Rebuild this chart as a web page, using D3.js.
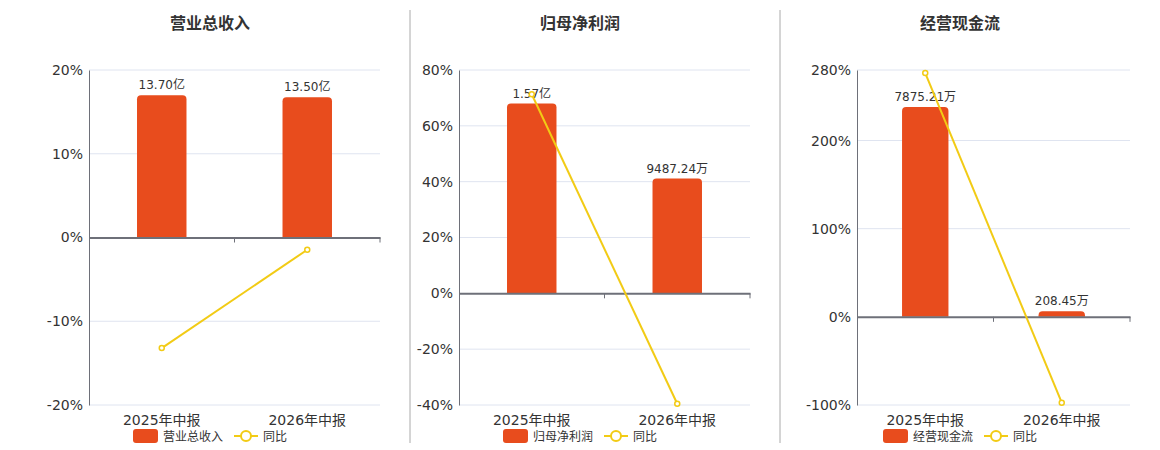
<!DOCTYPE html>
<html>
<head>
<meta charset="utf-8">
<script src="https://cdn.jsdelivr.net/npm/d3@7"></script>
<style>
  body { margin: 0; background: #fff; }
  svg text { font-family: "DejaVu Sans", "Noto Sans CJK SC", sans-serif; }
</style>
</head>
<body>
<div id="chart"></div>
<script>
// categories and values (bars in 万元, yoy in %)
var categories = ['2025年中报', '2026年中报'];
var titles = ['营业总收入', '归母净利润', '经营现金流'];
var revenue = [137000, 135000];
var netProfit = [15700, 9487.24];
var cashFlow = [7875.21, 208.45];
var revenueYoy = [-13.2, -1.46];
var profitYoy = [71.3, -39.57];
var cashYoy = [276.5, -97.35];
var yTicks1 = [-20, -10, 0, 10, 20];
var yTicks2 = [-40, -20, 0, 20, 40, 60, 80];
var yTicks3 = [-100, 0, 100, 200, 280];

var barColor = '#e84c1d', lineColor = '#f2cb15';

var W = 1160, H = 450;
var svg = d3.select('#chart').append('svg')
    .attr('width', W)
    .attr('height', H);

// panel separators
[410, 780].forEach(function(x) {
  svg.append('line')
    .attr('x1', x).attr('x2', x)
    .attr('y1', 10).attr('y2', 443)
    .attr('stroke', '#aaa').attr('stroke-width', 1);
});

function fmt(v) {
  if (v >= 10000) return (v / 10000).toFixed(2) + '亿';
  return v.toFixed(2) + '万';
}

// rounded-top bar path
function barPath(x, y, w, h, r) {
  r = Math.min(r, h, w / 2);
  return 'M' + x + ',' + (y + h) +
    'V' + (y + r) +
    'Q' + x + ',' + y + ' ' + (x + r) + ',' + y +
    'H' + (x + w - r) +
    'Q' + (x + w) + ',' + y + ' ' + (x + w) + ',' + (y + r) +
    'V' + (y + h) + 'Z';
}

var panels = [
  {off: 0,   left: 89,  title: titles[0], bars: revenue,   yoy: revenueYoy, ticks: yTicks1},
  {off: 370, left: 89,  title: titles[1], bars: netProfit, yoy: profitYoy,  ticks: yTicks2},
  {off: 750, left: 107, title: titles[2], bars: cashFlow,  yoy: cashYoy,    ticks: yTicks3}
];

var plotTop = 70, plotBottom = 405;

panels.forEach(function(p) {
  var g = svg.append('g').attr('transform', 'translate(' + p.off + ',0)');
  var right = 380;

  g.append('text')
    .attr('x', 210).attr('y', 29)
    .attr('text-anchor', 'middle')
    .attr('font-size', '16px')
    .attr('font-weight', 'bold')
    .attr('fill', '#333')
    .text(p.title);

  var x = d3.scaleBand()
    .domain(categories)
    .range([p.left, right]);

  var y = d3.scaleLinear()
    .domain(d3.extent(p.ticks))
    .range([plotBottom, plotTop]);

  var y0 = y(0);
  // bar axis shares the zero line, max bar at 85% of the positive range
  var yBar = d3.scaleLinear()
    .domain([0, d3.max(p.bars) / 0.85])
    .range([y0, plotTop]);

  // gridlines
  g.selectAll('.grid')
    .data(p.ticks.filter(function(t) { return t !== 0; }))
    .enter().append('line')
    .attr('x1', p.left).attr('x2', right)
    .attr('y1', function(d) { return y(d); })
    .attr('y2', function(d) { return y(d); })
    .attr('stroke', '#dfe4f0').attr('stroke-width', 1);

  // y axis
  var yAx = g.append('g')
    .attr('transform', 'translate(' + p.left + ',0)')
    .call(d3.axisLeft(y).tickValues(p.ticks).tickSize(0).tickPadding(6)
      .tickFormat(function(d) { return d + '%'; }));
  yAx.select('.domain').attr('stroke', '#6e7079');
  yAx.selectAll('text').attr('font-size', '14px').attr('fill', '#333')
    .attr('font-family', '"DejaVu Sans", "Noto Sans CJK SC", sans-serif');

  // bars
  g.selectAll('.bar')
    .data(p.bars)
    .enter().append('path')
    .attr('class', 'bar')
    .attr('fill', barColor)
    .attr('d', function(d, i) {
      var bw = x.bandwidth() * 0.34;
      var bx = x(categories[i]) + (x.bandwidth() - bw) / 2;
      var by = yBar(d);
      return barPath(bx, by, bw, y0 - by, 4);
    });

  g.selectAll('.blabel')
    .data(p.bars)
    .enter().append('text')
    .attr('x', function(d, i) { return x(categories[i]) + x.bandwidth() / 2; })
    .attr('y', function(d) { return yBar(d) - 6; })
    .attr('text-anchor', 'middle')
    .attr('font-size', '12px')
    .attr('fill', '#333')
    .text(fmt);

  // x axis on the zero line
  var xAx = g.append('g')
    .attr('transform', 'translate(0,' + y0 + ')')
    .call(d3.axisBottom(x).tickSize(0).tickFormat(''));
  xAx.select('.domain').attr('stroke', '#6e7079').attr('stroke-width', 2);
  var xt = [p.left + x.bandwidth(), right];
  xt.forEach(function(t) {
    g.append('line')
      .attr('x1', t).attr('x2', t)
      .attr('y1', y0).attr('y2', y0 + 5)
      .attr('stroke', '#6e7079').attr('stroke-width', 1);
  });

  // category labels
  g.selectAll('.cat')
    .data(categories)
    .enter().append('text')
    .attr('x', function(d) { return x(d) + x.bandwidth() / 2; })
    .attr('y', 425)
    .attr('text-anchor', 'middle')
    .attr('font-size', '14px')
    .attr('fill', '#333')
    .text(function(d) { return d; });

  // yoy line
  var line = d3.line()
    .x(function(d, i) { return x(categories[i]) + x.bandwidth() / 2; })
    .y(function(d) { return y(d); });

  g.append('path')
    .datum(p.yoy)
    .attr('d', line)
    .attr('fill', 'none')
    .attr('stroke', lineColor)
    .attr('stroke-width', 2);

  g.selectAll('.pt')
    .data(p.yoy)
    .enter().append('circle')
    .attr('cx', function(d, i) { return x(categories[i]) + x.bandwidth() / 2; })
    .attr('cy', function(d) { return y(d); })
    .attr('r', 2.5)
    .attr('fill', '#fff')
    .attr('stroke', lineColor)
    .attr('stroke-width', 1.5);

  // legend
  var lg = g.append('g');
  lg.append('rect')
    .attr('x', 133).attr('y', 429)
    .attr('width', 25).attr('height', 14).attr('rx', 3)
    .attr('fill', barColor);
  lg.append('text')
    .attr('x', 163).attr('y', 441)
    .attr('font-size', '12px').attr('fill', '#333')
    .text(p.title);
  lg.append('line')
    .attr('x1', 234).attr('x2', 258)
    .attr('y1', 436).attr('y2', 436)
    .attr('stroke', lineColor).attr('stroke-width', 2);
  lg.append('circle')
    .attr('cx', 246).attr('cy', 436).attr('r', 5)
    .attr('fill', '#fff').attr('stroke', lineColor).attr('stroke-width', 2);
  lg.append('text')
    .attr('x', 263).attr('y', 441)
    .attr('font-size', '12px').attr('fill', '#333')
    .text('同比');
});
</script>
</body>
</html>
